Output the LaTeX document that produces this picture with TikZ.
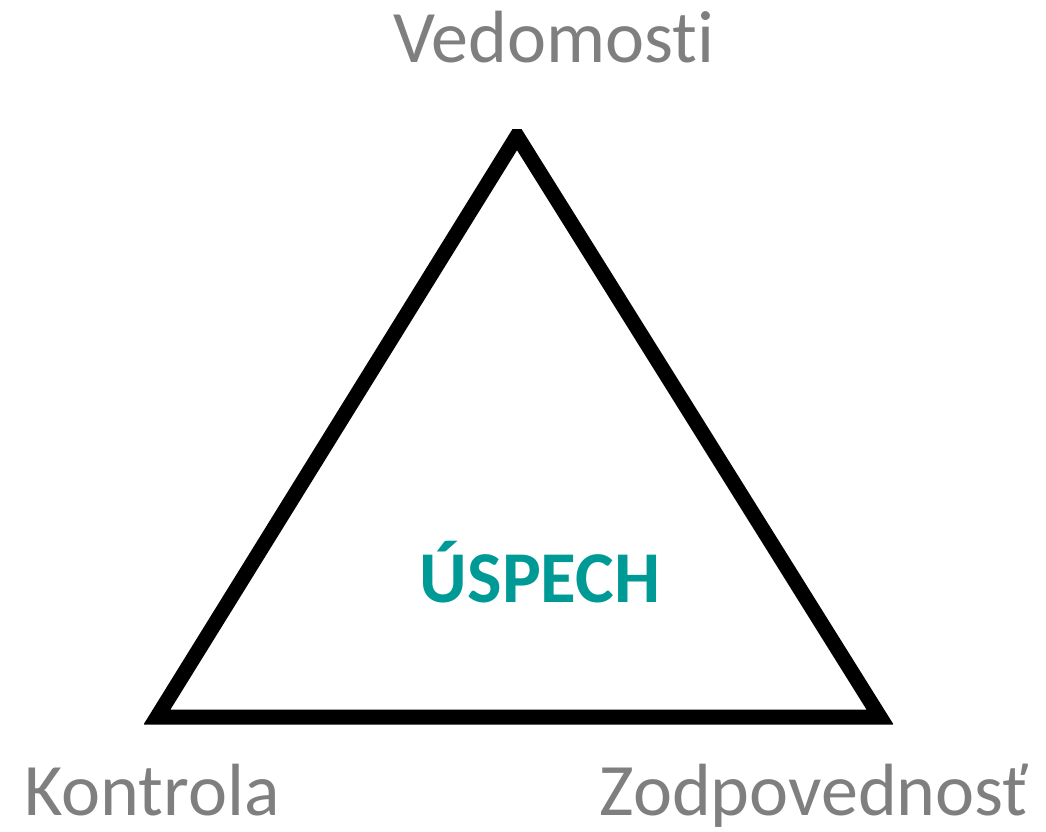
\documentclass[tikz,border=0pt]{standalone}
\usepackage{fontspec}
\setmainfont[Ligatures=NoCommon]{Carlito}
\definecolor{lbl}{HTML}{7F7F7F}
\definecolor{teal2}{HTML}{009A96}
\begin{document}
\begin{tikzpicture}[x=1pt,y=-1pt,
  corner/.style={font=\fontsize{74}{80}\selectfont, text=lbl, anchor=base, inner sep=0pt},
  center/.style={font=\fontsize{73}{78}\selectfont\bfseries, text=teal2, anchor=base, inner sep=0pt},
  tri/.style={draw=black, line width=15pt, line join=miter, miter limit=10}]
\useasboundingbox (0,0) rectangle (1046,831);
\coordinate (A) at (517,136);
\coordinate (B) at (157,717);
\coordinate (C) at (880,717);
\begin{scope}
  \clip (144,129) rectangle (893,725);
  \draw[tri] (B) -- (A) -- (C) -- cycle;
\end{scope}
\node[corner] (ved) at (554,62) {Vedomosti};
\node[corner] (kon) at (152,815) {Kontrola};
\node[corner] (zod) at (814,815) {Zodpovednosť};
\node[center] (usp) at (540,602) {ÚSPECH};
\end{tikzpicture}
\end{document}
